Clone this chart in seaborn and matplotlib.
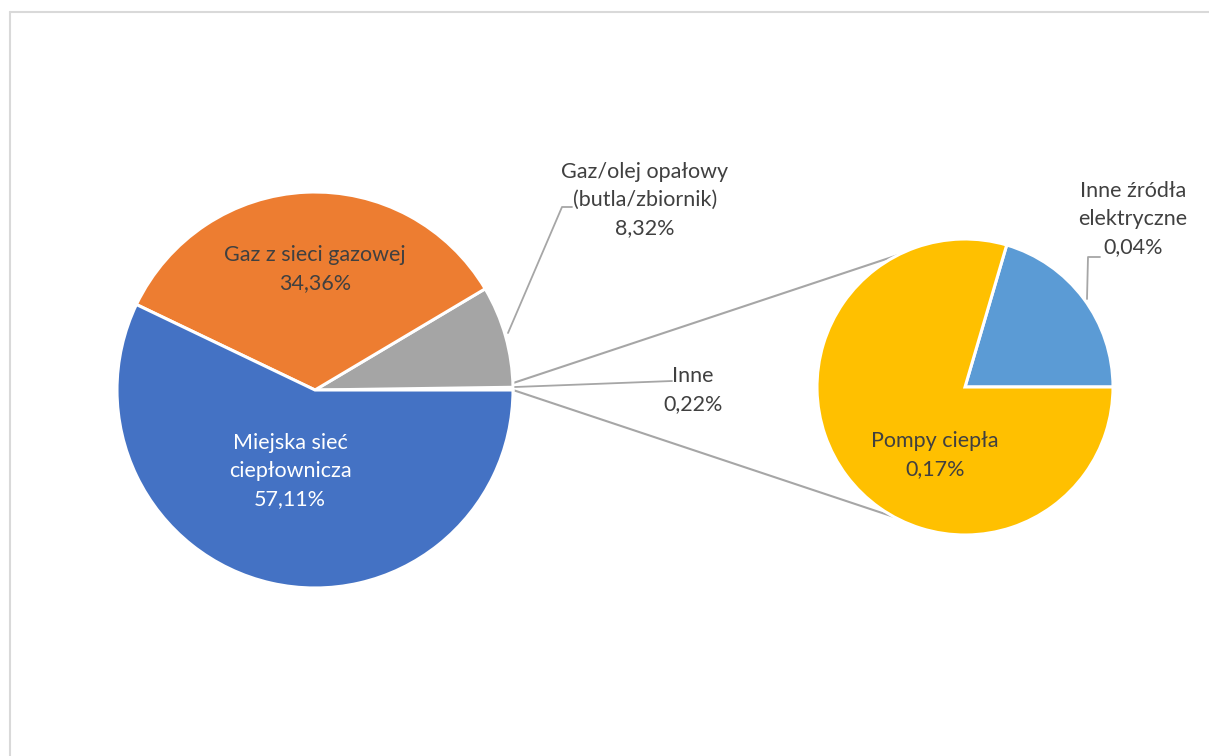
import numpy as np
import seaborn as sns
from matplotlib import pyplot as plt

# main pie (counterclockwise from 3 o'clock)
main_labels = ["Inne", "Gaz/olej opałowy\n(butla/zbiornik)", "Gaz z sieci gazowej", "Miejska sieć\nciepłownicza"]
main_values = [0.22, 8.32, 34.36, 57.11]
main_colors = ["#A5A5A5", "#A5A5A5", "#ED7D31", "#4472C4"]

# second pie: breakdown of "Inne"
sub_labels = ["Inne źródła\nelektryczne", "Pompy ciepła"]
sub_values = [0.045, 0.175]
sub_pct = ["0,04%", "0,17%"]
sub_colors = ["#5B9BD5", "#FFC000"]

W, H = 1209, 756
Y = lambda y: H - y

sns.set_theme(style="white")
plt.rcParams['font.family'] = ['Lato', 'DejaVu Sans']

fig = plt.figure(figsize=(W / 100, H / 100), dpi=100)
ax = fig.add_axes([0, 0, 1, 1])

c1, r1 = (315, Y(390)), 198
c2, r2 = (965, Y(387)), 148

w1, _ = ax.pie(main_values, colors=main_colors, startangle=0, counterclock=True,
               center=c1, radius=r1, wedgeprops=dict(edgecolor="white", linewidth=2.2))
w2, _ = ax.pie(sub_values, colors=sub_colors, startangle=0, counterclock=True,
               center=c2, radius=r2, wedgeprops=dict(edgecolor="white", linewidth=2.2))

ax.set_xlim(0, W)
ax.set_ylim(0, H)
ax.set_aspect("equal")
ax.axis("off")

# connector lines from the "Inne" slice to the second pie
line_col = "#A6A6A6"
t_lo, t_hi = np.radians(w1[0].theta1), np.radians(w1[0].theta2 + 1.2)
p_top = (c2[0] + r2 * np.cos(np.radians(117)), c2[1] + r2 * np.sin(np.radians(117)))
p_bot = (c2[0] + r2 * np.cos(np.radians(241.5)), c2[1] + r2 * np.sin(np.radians(241.5)))
s_hi = (c1[0] + r1 * np.cos(t_hi), c1[1] + r1 * np.sin(t_hi))
s_lo = (c1[0] + r1 * np.cos(t_lo), c1[1] + r1 * np.sin(t_lo))
ax.plot([s_hi[0], p_top[0]], [s_hi[1], p_top[1]], color=line_col, lw=1.5, zorder=0)
ax.plot([s_lo[0], p_bot[0]], [s_lo[1], p_bot[1]], color=line_col, lw=1.5, zorder=0)

fmt = lambda v: f"{v:.2f}%".replace(".", ",")
txt = dict(ha="center", va="center", fontsize=15.5, linespacing=1.5, color="#404040")

ax.text(315, Y(269), main_labels[2] + "\n" + fmt(main_values[2]), **txt)
ax.text(290, Y(471), main_labels[3] + "\n" + fmt(main_values[3]), **{**txt, "color": "white"})
ax.text(645, Y(200), main_labels[1] + "\n" + fmt(main_values[1]), **txt)
ax.text(693, Y(390), main_labels[0] + "\n" + fmt(main_values[0]), **txt)
ax.text(935, Y(455), sub_labels[1] + "\n" + sub_pct[1], **txt)
ax.text(1133, Y(219), sub_labels[0] + "\n" + sub_pct[0], **txt)

# leader lines
ax.plot([508, 562, 572], [Y(333), Y(207), Y(207)], color=line_col, lw=1.3)
ax.plot([515, 672], [Y(387), Y(381)], color=line_col, lw=1.3)
ax.plot([1087, 1088, 1100], [Y(299), Y(257), Y(257)], color=line_col, lw=1.3)

# chart frame (top and left edges visible)
ax.plot([10, W], [Y(12), Y(12)], color="#D9D9D9", lw=1.5, clip_on=False)
ax.plot([10, 10], [Y(12), 0], color="#D9D9D9", lw=1.5, clip_on=False)

fig.savefig("out.png", dpi=100)
